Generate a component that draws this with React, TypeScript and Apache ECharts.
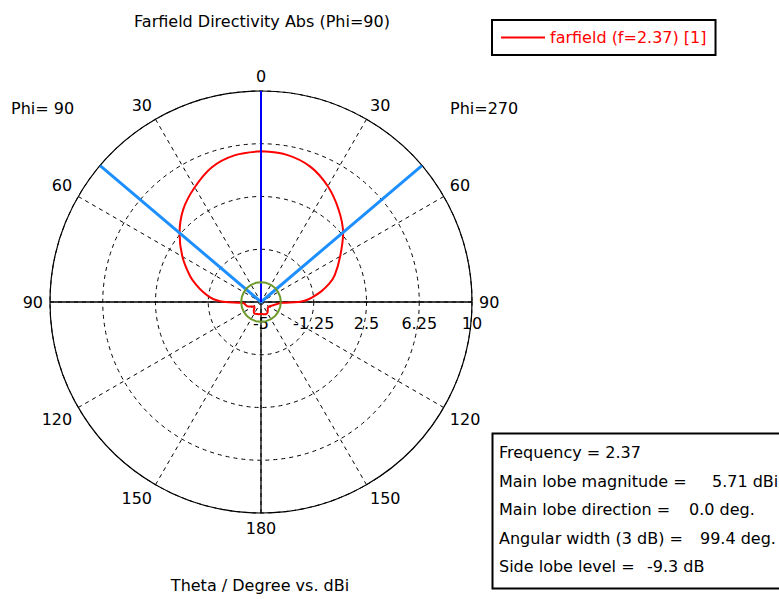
import React, { useEffect, useRef } from "react";
import * as echarts from "echarts";

// Theta samples (deg) and directivity (dBi)
const THETA_DEG = [0, 10, 20, 30, 40, 50, 60, 70, 75, 80, 85, 88, 90, 92, 95, 100, 110, 120, 130, 140, 150, 160, 170, 180];
const DIR_PHI270 = [5.71, 5.62, 5.24, 4.5, 3.58, 2.62, 1.5, 0.58, 0.02, -0.65, -1.37, -1.85, -2.35, -3.5, -3.75, -3.95, -4.22, -4.35, -4.37, -4.25, -4.1, -4.08, -4.12, -4.15];
const DIR_PHI90 = [5.71, 5.6, 5.2, 4.42, 3.6, 2.56, 1.45, 0.36, -0.22, -0.8, -1.4, -1.9, -2.48, -3.6, -3.8, -3.88, -4.05, -4.35, -4.4, -4.2, -4.05, -4.1, -4.12, -4.15];

const RADIUS_TICKS = [-5, -1.25, 2.5, 6.25, 10];
const ANGLE_STEP = 30;

const FREQUENCY = 2.37;
const MAIN_LOBE_DBI = 5.71;
const MAIN_LOBE_DIR = 0.0;
const ANGULAR_WIDTH = 99.4;
const SIDE_LOBE_DB = -9.3;
const SIDE_LOBE_CIRCLE_ANGLES = [0, 15, 30, 45, 60, 75, 90, 105, 120, 135, 150, 165, 180, 195, 210, 225, 240, 255, 270, 285, 300, 315, 330, 345, 360];

const SERIES_NAME = "farfield (f=2.37) [1]";
const FONT = '"DejaVu Sans", sans-serif';

export default function App() {
  const ref = useRef<HTMLDivElement>(null);

  useEffect(() => {
    if (!ref.current) return;
    const chart = echarts.init(ref.current, undefined, { renderer: "svg" });

    const FLOOR = RADIUS_TICKS[0];
    const TOP = RADIUS_TICKS[RADIUS_TICKS.length - 1];
    const RMAX = TOP - FLOOR;
    const interval = RADIUS_TICKS[1] - RADIUS_TICKS[0];

    // theta on the right half (Phi=270) and on the left half (Phi=90) -> angle value
    const rightAngle = (t: number) => (270 + t + 360) % 360;
    const leftAngle = (t: number) => (270 - t + 360) % 360;
    const rad = (db: number) => Math.max(0, db - FLOOR);

    const redData: number[][] = [];
    THETA_DEG.forEach((t, i) => redData.push([rad(DIR_PHI270[i]), rightAngle(t)]));
    for (let i = THETA_DEG.length - 1; i >= 0; i--) {
      redData.push([rad(DIR_PHI90[i]), leftAngle(THETA_DEG[i])]);
    }

    const half = ANGULAR_WIDTH / 2;
    const sideLobeR = rad(MAIN_LOBE_DBI + SIDE_LOBE_DB);

    const plain = { symbol: "none", silent: true, animation: false };

    const option: any = {
      animation: false,
      textStyle: { fontFamily: FONT },
      polar: { center: [261, 302], radius: 211 },
      angleAxis: {
        type: "value",
        min: 0,
        max: 360,
        interval: ANGLE_STEP,
        startAngle: 0,
        clockwise: true,
        axisLine: { lineStyle: { color: "#000", width: 1.2 } },
        axisTick: { show: false },
        axisLabel: {
          fontSize: 16,
          color: "#000",
          fontFamily: FONT,
          margin: 7,
          formatter: (v: number) => {
            let t = (v + 90) % 360;
            if (t > 180) t = 360 - t;
            return String(t);
          },
        },
        splitLine: { show: true, lineStyle: { color: "#000", width: 1, type: [4, 4] } },
      },
      radiusAxis: {
        type: "value",
        min: 0,
        max: RMAX,
        interval: interval,
        axisLine: { show: false },
        axisTick: { show: false },
        axisLabel: {
          fontSize: 16,
          color: "#000",
          fontFamily: FONT,
          margin: -13,
          verticalAlign: "top",
          align: "center",
          formatter: (v: number) => String(+(v + FLOOR).toFixed(2)),
        },
        splitLine: { show: true, lineStyle: { color: "#000", width: 1, type: [4, 4] } },
      },
      legend: {
        left: 492,
        top: 20,
        data: [{ name: SERIES_NAME, icon: "rect" }],
        padding: [8, 9, 8, 9],
        borderColor: "#000",
        borderWidth: 2,
        itemWidth: 44,
        itemHeight: 2,
        textStyle: { color: "#ff0000", fontSize: 16, fontFamily: FONT, lineHeight: 19 },
      },
      series: [
        {
          ...plain,
          type: "line",
          coordinateSystem: "polar",
          data: [[RMAX, 0], [RMAX, 180]],
          lineStyle: { color: "#000", width: 1.3 },
          z: 3,
        },
        {
          ...plain,
          type: "line",
          coordinateSystem: "polar",
          data: [[RMAX, 90], [RMAX, 270]],
          lineStyle: { color: "#000", width: 1.3 },
          z: 3,
        },
        {
          ...plain,
          name: SERIES_NAME,
          type: "line",
          coordinateSystem: "polar",
          data: redData,
          smooth: 0.35,
          color: "#ff0000",
          itemStyle: { color: "#ff0000" },
          lineStyle: { color: "#ff0000", width: 2 },
          z: 4,
        },
        {
          ...plain,
          type: "line",
          coordinateSystem: "polar",
          data: [[RMAX, rightAngle(-half)], [0, 0], [RMAX, rightAngle(half)]],
          lineStyle: { color: "#1e8fff", width: 3 },
          z: 5,
        },
        {
          ...plain,
          type: "line",
          coordinateSystem: "polar",
          data: [[0, rightAngle(MAIN_LOBE_DIR)], [RMAX, rightAngle(MAIN_LOBE_DIR)]],
          lineStyle: { color: "#0000ff", width: 2 },
          z: 6,
        },
        {
          ...plain,
          type: "line",
          coordinateSystem: "polar",
          data: SIDE_LOBE_CIRCLE_ANGLES.map((a) => [sideLobeR, a]),
          lineStyle: { color: "#6e9a2a", width: 2 },
          z: 7,
        },
      ],
      graphic: [
        {
          type: "text",
          x: 262,
          y: 21,
          style: { text: "Farfield Directivity Abs (Phi=90)", font: `16px ${FONT}`, fill: "#000", align: "center", verticalAlign: "middle", textAlign: "center", textVerticalAlign: "middle" },
        },
        {
          type: "text",
          x: 11,
          y: 108,
          style: { text: "Phi= 90", font: `16px ${FONT}`, fill: "#000", verticalAlign: "middle", textVerticalAlign: "middle" },
        },
        {
          type: "text",
          x: 450,
          y: 108,
          style: { text: "Phi=270", font: `16px ${FONT}`, fill: "#000", verticalAlign: "middle", textVerticalAlign: "middle" },
        },
        {
          type: "text",
          x: 260,
          y: 585,
          style: { text: "Theta / Degree vs. dBi", font: `16px ${FONT}`, fill: "#000", align: "center", verticalAlign: "middle", textAlign: "center", textVerticalAlign: "middle" },
        },
        {
          type: "rect",
          shape: { x: 492.5, y: 433.5, width: 320, height: 155 },
          style: { fill: "#fff", stroke: "#000", lineWidth: 2 },
        },
        ...[
          ["Frequency = " + FREQUENCY, "", 452, 0],
          ["Main lobe magnitude =", MAIN_LOBE_DBI.toFixed(2) + " dBi", 481, 712],
          ["Main lobe direction =", MAIN_LOBE_DIR.toFixed(1) + " deg.", 509, 689],
          ["Angular width (3 dB) =", ANGULAR_WIDTH.toFixed(1) + " deg.", 538, 700],
          ["Side lobe level =", SIDE_LOBE_DB.toFixed(1) + " dB", 566, 647],
        ].flatMap(([label, value, y, vx]: any) => {
          const items: any[] = [
            {
              type: "text",
              x: 499,
              y,
              style: { text: label, font: `16px ${FONT}`, fill: "#000", verticalAlign: "middle", textVerticalAlign: "middle" },
            },
          ];
          if (value) {
            items.push({
              type: "text",
              x: vx,
              y,
              style: { text: value, font: `16px ${FONT}`, fill: "#000", verticalAlign: "middle", textVerticalAlign: "middle" },
            });
          }
          return items;
        }),
      ],
    };

    chart.setOption(option);
    return () => chart.dispose();
  }, []);

  return (
    <div
      ref={ref}
      style={{ position: "fixed", left: 0, top: 0, width: 779, height: 599, background: "#fff" }}
    />
  );
}
